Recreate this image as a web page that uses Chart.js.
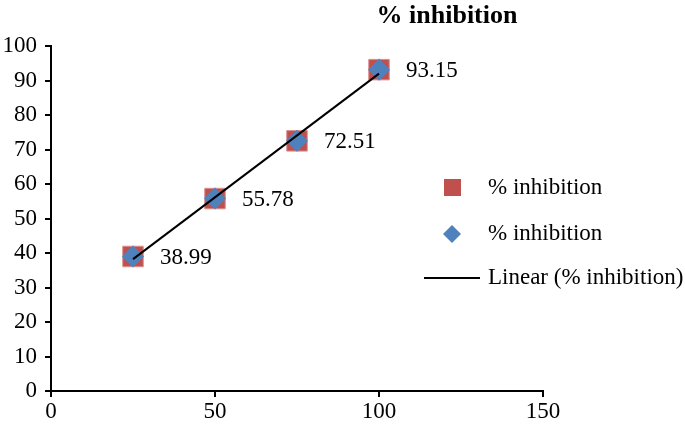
<!DOCTYPE html>
<html>
<head>
<meta charset="utf-8">
<script src="https://cdn.jsdelivr.net/npm/chart.js@4.4.1/dist/chart.umd.min.js"></script>
<style>
  html, body { margin: 0; padding: 0; background: #fff; }
  #wrap { width: 685px; height: 431px; }
</style>
</head>
<body>
<div id="wrap"><canvas id="c" width="685" height="431"></canvas></div>
<script>
// concentration vs % inhibition
var conc = [25, 50, 75, 100];
var inhibition = [38.99, 55.78, 72.51, 93.15];
var seriesNames = ["% inhibition", "% inhibition", "Linear (% inhibition)"];
var chartTitle = "% inhibition";

var FONT = "'Liberation Serif', 'Times New Roman', serif";
var RED = "#C0504D";
var BLUE = "#4F81BD";

// least squares trendline through the points
function fit(xs, ys) {
  var n = xs.length, mx = 0, my = 0;
  for (var i = 0; i < n; i++) { mx += xs[i]; my += ys[i]; }
  mx /= n; my /= n;
  var sxy = 0, sxx = 0;
  for (var j = 0; j < n; j++) {
    sxy += (xs[j] - mx) * (ys[j] - my);
    sxx += (xs[j] - mx) * (xs[j] - mx);
  }
  var b = sxy / sxx;
  return { slope: b, icept: my - b * mx };
}
var lin = fit(conc, inhibition);
var xFirst = conc[0], xLast = conc[conc.length - 1];
var trend = [
  { x: xFirst, y: lin.icept + lin.slope * xFirst },
  { x: xLast, y: lin.icept + lin.slope * xLast }
];

function pts() {
  return conc.map(function (x, i) { return { x: x, y: inhibition[i] }; });
}

var extras = {
  id: 'extras',
  afterDatasetsDraw: function (chart) {
    var ctx = chart.ctx;
    var xs = chart.scales.x, ys = chart.scales.y;
    ctx.save();
    ctx.fillStyle = '#000';
    ctx.font = '23px ' + FONT;
    ctx.textBaseline = 'middle';
    ctx.textAlign = 'left';
    conc.forEach(function (x, i) {
      ctx.fillText(inhibition[i].toFixed(2), xs.getPixelForValue(x) + 27, ys.getPixelForValue(inhibition[i]) + 1);
    });

    // title
    ctx.font = 'bold 26px ' + FONT;
    ctx.textAlign = 'center';
    ctx.fillText(chartTitle, 447, 16);

    // legend
    ctx.font = '23px ' + FONT;
    ctx.textAlign = 'left';
    ctx.fillStyle = RED;
    ctx.fillRect(444, 179, 17, 17);
    ctx.fillStyle = BLUE;
    ctx.beginPath();
    ctx.moveTo(452, 225); ctx.lineTo(461, 234); ctx.lineTo(452, 243); ctx.lineTo(443, 234);
    ctx.closePath();
    ctx.fill();
    ctx.strokeStyle = '#000';
    ctx.lineWidth = 2;
    ctx.beginPath();
    ctx.moveTo(424, 278); ctx.lineTo(480, 278);
    ctx.stroke();
    ctx.fillStyle = '#000';
    ctx.fillText(seriesNames[0], 488, 188);
    ctx.fillText(seriesNames[1], 488, 234);
    ctx.fillText(seriesNames[2], 488, 278);
    ctx.restore();
  }
};

new Chart(document.getElementById('c'), {
  type: 'scatter',
  data: {
    datasets: [
      {
        type: 'line',
        label: seriesNames[2],
        data: trend,
        borderColor: '#000',
        borderWidth: 2,
        pointRadius: 0,
        fill: false,
        order: 0
      },
      {
        label: seriesNames[1],
        data: pts(),
        pointStyle: 'rectRot',
        pointRadius: 11,
        backgroundColor: BLUE,
        borderColor: BLUE,
        borderWidth: 0,
        order: 1
      },
      {
        label: seriesNames[0],
        data: pts(),
        pointStyle: 'rect',
        pointRadius: 14.5,
        backgroundColor: RED,
        borderColor: '#D9908E',
        borderWidth: 1,
        order: 2
      }
    ]
  },
  options: {
    responsive: false,
    animation: false,
    layout: { padding: { left: 0, top: 46, right: 142, bottom: 10 } },
    plugins: {
      legend: { display: false },
      title: { display: false },
      tooltip: { enabled: false }
    },
    scales: {
      x: {
        type: 'linear',
        min: 0, max: 150,
        afterFit: function (s) { s.height = 30; },
        ticks: { stepSize: 50, color: '#000', font: { family: FONT, size: 23 }, padding: 1 },
        grid: { drawOnChartArea: false, drawTicks: true, tickLength: 6, color: '#000', lineWidth: 2 },
        border: { color: '#000', width: 2 }
      },
      y: {
        min: 0, max: 100,
        afterFit: function (s) { s.width = 51; },
        ticks: { stepSize: 10, color: '#000', font: { family: FONT, size: 23 }, padding: 8 },
        grid: { drawOnChartArea: false, drawTicks: true, tickLength: 6, color: '#000', lineWidth: 2 },
        border: { color: '#000', width: 2 }
      }
    }
  },
  plugins: [extras]
});
</script>
</body>
</html>
